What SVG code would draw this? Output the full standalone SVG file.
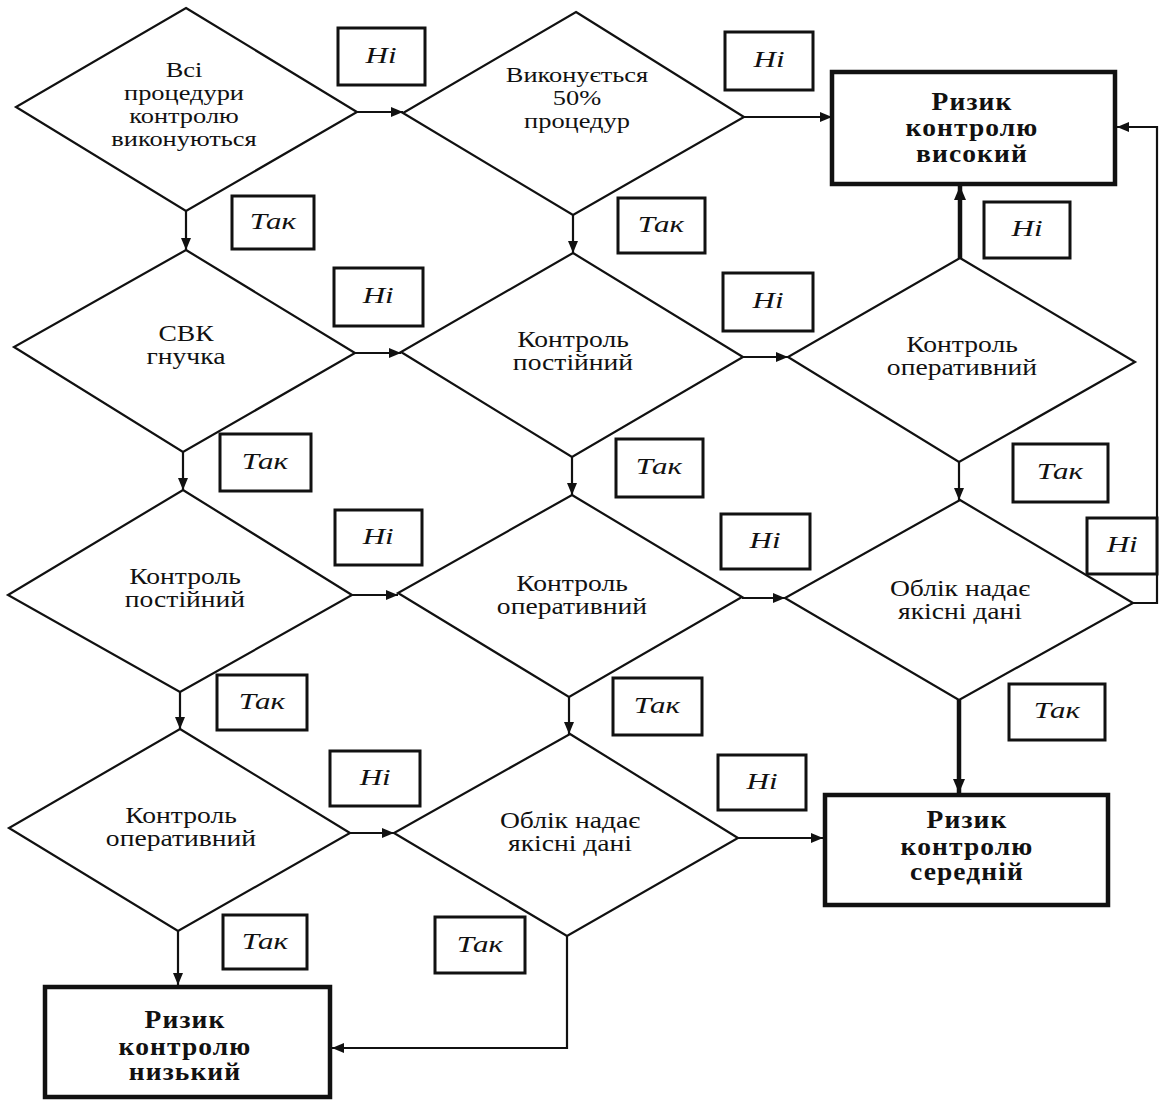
<svg xmlns="http://www.w3.org/2000/svg" width="1162" height="1100" viewBox="0 0 1162 1100">
<defs>
<marker id="ah" viewBox="0 0 12 10" refX="12" refY="5" markerWidth="12" markerHeight="10" markerUnits="userSpaceOnUse" orient="auto"><path d="M0,0 L12,5 L0,10 z" fill="#111"/></marker>
<marker id="ahb" viewBox="0 0 14 12" refX="14" refY="6" markerWidth="14" markerHeight="12" markerUnits="userSpaceOnUse" orient="auto"><path d="M0,0 L14,6 L0,12 z" fill="#111"/></marker>
<style>
.dia{fill:#fff;stroke:#111;stroke-width:2.2}
.res{fill:#fff;stroke:#111;stroke-width:4.5}
.lb{fill:#fff;stroke:#111;stroke-width:3}
.t{font-family:"Liberation Serif","Times New Roman",serif;font-size:23px;fill:#111;text-anchor:middle;transform-box:fill-box;transform-origin:center;transform:scaleX(1.2)}
.ts{font-size:22px}
.tb{font-family:"Liberation Serif","Times New Roman",serif;font-size:25px;font-weight:bold;fill:#111;text-anchor:middle;letter-spacing:1px;transform-box:fill-box;transform-origin:center;transform:scaleX(1.1)}
.ti{font-family:"Liberation Serif","Times New Roman",serif;font-size:23px;font-style:italic;fill:#111;text-anchor:middle;transform-box:fill-box;transform-origin:center;transform:scaleX(1.35)}
.c{fill:none;stroke:#111;stroke-width:2.2;marker-end:url(#ah)}
.cb{fill:none;stroke:#111;stroke-width:4.5;marker-end:url(#ahb)}
</style>
</defs>
<rect width="1162" height="1100" fill="#fff"/>

<g id="connectors">
<path class="c" d="M186,211 L186,250"/>
<path class="c" d="M357,112 L403,112"/>
<path class="c" d="M744,117 L832,117"/>
<path class="c" d="M573,215 L573,253"/>
<path class="c" d="M355,353 L401,353"/>
<path class="c" d="M183,452 L183,490"/>
<path class="c" d="M743,357 L788,357"/>
<path class="c" d="M572,457 L572,495"/>
<path class="cb" d="M960,258 L960,186"/>
<path class="c" d="M959,462 L959,500"/>
<path class="c" d="M352,595 L398,595"/>
<path class="c" d="M180,692 L180,729"/>
<path class="c" d="M742,598 L785,598"/>
<path class="c" d="M569,697 L569,734"/>
<path class="c" d="M1133,603 L1157,603 L1157,127 L1117,127"/>
<path class="cb" d="M959,700 L959,793"/>
<path class="c" d="M350,833 L394,833"/>
<path class="c" d="M178,931 L178,985"/>
<path class="c" d="M738,838 L823,838"/>
<path class="c" d="M567,936 L567,1048 L332,1048"/>
</g>

<g id="d1"><polygon class="dia" points="186,8 357,112 186,211 16,107"/>
<text class="t ts" x="184"><tspan x="184" y="77">Всі</tspan><tspan x="184" y="100">процедури</tspan><tspan x="184" y="123">контролю</tspan><tspan x="184" y="146">виконуються</tspan></text></g>

<g id="d2"><polygon class="dia" points="576,12 744,117 573,215 403,113"/>
<text class="t ts" x="577"><tspan x="577" y="82">Виконується</tspan><tspan x="577" y="105">50%</tspan><tspan x="577" y="128">процедур</tspan></text></g>

<g id="d3"><polygon class="dia" points="186,250 355,353 183,452 14,347"/>
<text class="t" x="186"><tspan x="186" y="341">СВК</tspan><tspan x="186" y="364">гнучка</tspan></text></g>

<g id="d4"><polygon class="dia" points="573,253 743,357 572,457 401,352"/>
<text class="t" x="573"><tspan x="573" y="347">Контроль</tspan><tspan x="573" y="370">постійний</tspan></text></g>

<g id="d5"><polygon class="dia" points="960,258 1135,362 959,462 788,357"/>
<text class="t" x="962"><tspan x="962" y="352">Контроль</tspan><tspan x="962" y="375">оперативний</tspan></text></g>

<g id="d6"><polygon class="dia" points="183,490 352,595 180,692 8,595"/>
<text class="t" x="185"><tspan x="185" y="584">Контроль</tspan><tspan x="185" y="607">постійний</tspan></text></g>

<g id="d7"><polygon class="dia" points="572,495 742,597 569,697 398,593"/>
<text class="t" x="572"><tspan x="572" y="591">Контроль</tspan><tspan x="572" y="614">оперативний</tspan></text></g>

<g id="d8"><polygon class="dia" points="960,500 1133,603 959,700 785,598"/>
<text class="t" x="960"><tspan x="960" y="596">Облік надає</tspan><tspan x="960" y="619">якісні дані</tspan></text></g>

<g id="d9"><polygon class="dia" points="180,729 350,833 178,931 9,828"/>
<text class="t" x="181"><tspan x="181" y="823">Контроль</tspan><tspan x="181" y="846">оперативний</tspan></text></g>

<g id="d10"><polygon class="dia" points="570,734 738,838 567,936 394,833"/>
<text class="t" x="570"><tspan x="570" y="828">Облік надає</tspan><tspan x="570" y="851">якісні дані</tspan></text></g>

<g id="r-high"><rect class="res" x="832" y="72" width="283" height="112"/>
<text class="tb" x="972"><tspan x="972" y="110">Ризик</tspan><tspan x="972" y="136">контролю</tspan><tspan x="972" y="162">високий</tspan></text></g>

<g id="r-mid"><rect class="res" x="825" y="795" width="283" height="110"/>
<text class="tb" x="967"><tspan x="967" y="828">Ризик</tspan><tspan x="967" y="855">контролю</tspan><tspan x="967" y="880">середній</tspan></text></g>

<g id="r-low"><rect class="res" x="45" y="987" width="285" height="110"/>
<text class="tb" x="185"><tspan x="185" y="1028">Ризик</tspan><tspan x="185" y="1055">контролю</tspan><tspan x="185" y="1080">низький</tspan></text></g>

<g id="l1"><rect class="lb" x="338" y="28" width="87" height="57"/><text class="ti" x="381" y="63">Ні</text></g>
<g id="l2"><rect class="lb" x="232" y="196" width="82" height="53"/><text class="ti" x="273" y="229">Так</text></g>
<g id="l3"><rect class="lb" x="725" y="32" width="88" height="58"/><text class="ti" x="769" y="67">Ні</text></g>
<g id="l4"><rect class="lb" x="618" y="198" width="87" height="55"/><text class="ti" x="661" y="232">Так</text></g>
<g id="l5"><rect class="lb" x="984" y="202" width="86" height="56"/><text class="ti" x="1027" y="236">Ні</text></g>
<g id="l6"><rect class="lb" x="334" y="268" width="89" height="58"/><text class="ti" x="378" y="303">Ні</text></g>
<g id="l7"><rect class="lb" x="220" y="434" width="91" height="57"/><text class="ti" x="265" y="469">Так</text></g>
<g id="l8"><rect class="lb" x="723" y="273" width="90" height="58"/><text class="ti" x="768" y="308">Ні</text></g>
<g id="l9"><rect class="lb" x="616" y="439" width="87" height="58"/><text class="ti" x="659" y="474">Так</text></g>
<g id="l10"><rect class="lb" x="1013" y="444" width="95" height="58"/><text class="ti" x="1060" y="479">Так</text></g>
<g id="l11"><rect class="lb" x="335" y="510" width="87" height="55"/><text class="ti" x="378" y="544">Ні</text></g>
<g id="l12"><rect class="lb" x="217" y="675" width="90" height="55"/><text class="ti" x="262" y="709">Так</text></g>
<g id="l13"><rect class="lb" x="721" y="514" width="89" height="55"/><text class="ti" x="765" y="548">Ні</text></g>
<g id="l14"><rect class="lb" x="613" y="678" width="89" height="57"/><text class="ti" x="657" y="713">Так</text></g>
<g id="l15"><rect class="lb" x="1087" y="518" width="70" height="56"/><text class="ti" x="1122" y="552">Ні</text></g>
<g id="l16"><rect class="lb" x="1009" y="684" width="96" height="56"/><text class="ti" x="1057" y="718">Так</text></g>
<g id="l17"><rect class="lb" x="330" y="751" width="90" height="55"/><text class="ti" x="375" y="785">Ні</text></g>
<g id="l18"><rect class="lb" x="223" y="915" width="84" height="54"/><text class="ti" x="265" y="949">Так</text></g>
<g id="l19"><rect class="lb" x="718" y="755" width="88" height="55"/><text class="ti" x="762" y="789">Ні</text></g>
<g id="l20"><rect class="lb" x="435" y="917" width="90" height="56"/><text class="ti" x="480" y="952">Так</text></g>
</svg>
